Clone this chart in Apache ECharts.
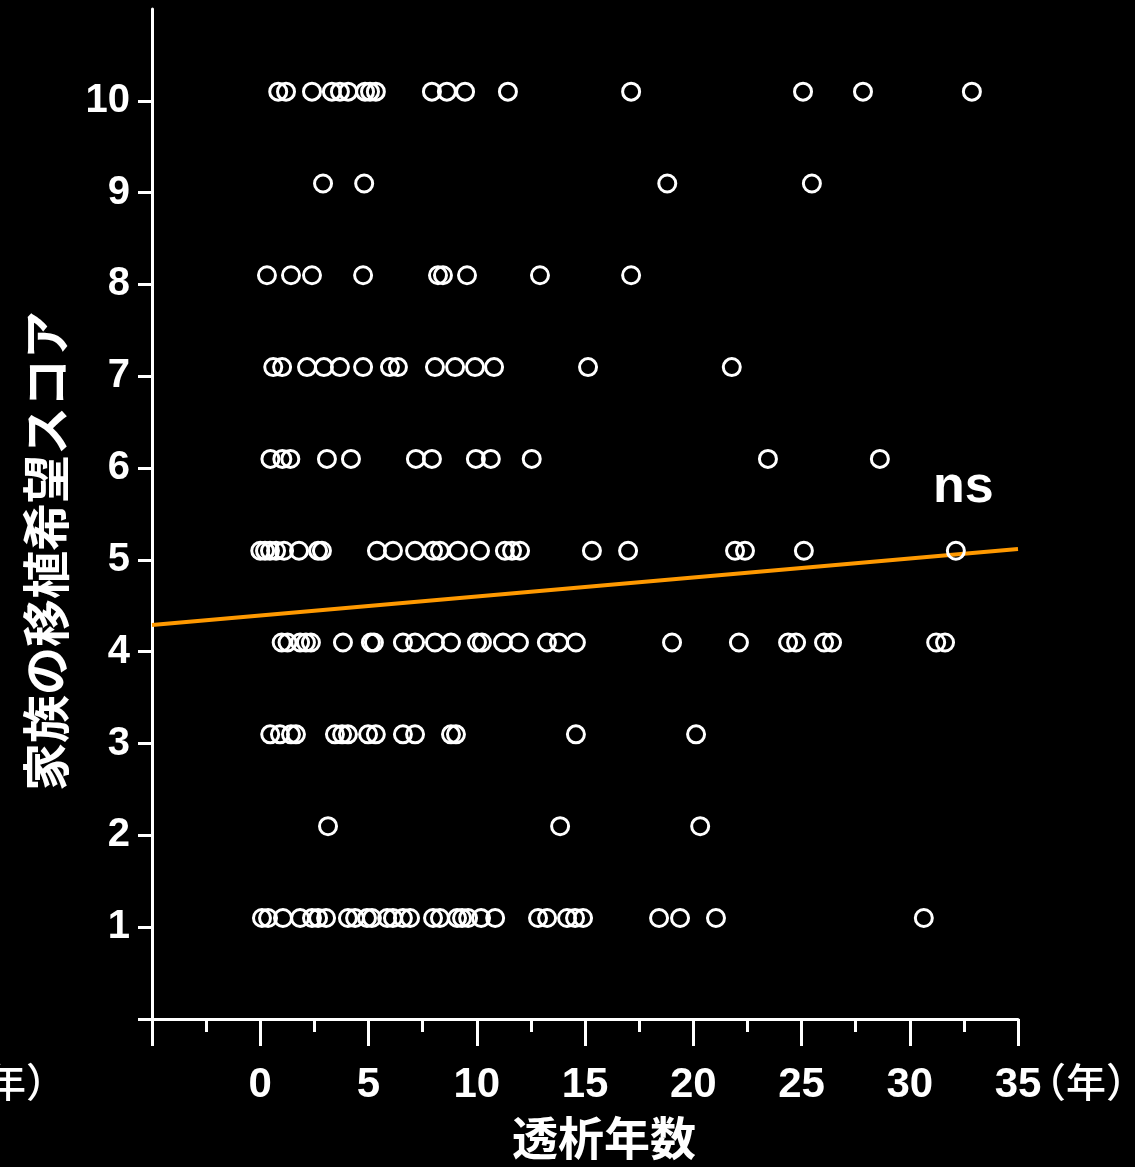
<!DOCTYPE html>
<html>
<head>
<meta charset="utf-8">
<script src="https://cdn.jsdelivr.net/npm/echarts@6/dist/echarts.min.js"></script>
<style>
  html, body { margin: 0; padding: 0; background: #000; }
  #chart { width: 1135px; height: 1167px; }
</style>
</head>
<body>
<div id="chart"></div>
<script>
// Dialysis years (x) for each family transplant-wish score (y)
const yearsScore10 = [0.83, 1.19, 2.39, 3.31, 3.68, 4.06, 4.84, 5.07, 5.34, 7.93, 8.62, 9.46, 11.44, 17.13, 25.07, 27.84, 32.87];
const yearsScore9 = [2.90, 4.80, 18.80, 25.48];
const yearsScore8 = [0.31, 1.42, 2.39, 4.75, 8.21, 8.44, 9.55, 12.92, 17.13];
const yearsScore7 = [0.60, 1.01, 2.16, 2.94, 3.68, 4.75, 5.99, 6.36, 8.07, 9.00, 9.92, 10.80, 15.14, 21.78];
const yearsScore6 = [0.47, 1.02, 1.39, 3.08, 4.19, 7.19, 7.93, 9.96, 10.65, 12.54, 23.45, 28.62];
const yearsScore5 = [0.00, 0.22, 0.45, 0.73, 1.10, 1.79, 2.67, 2.85, 5.39, 6.13, 7.15, 7.98, 8.30, 9.13, 10.15, 11.30, 11.63, 12.00, 15.32, 16.99, 21.93, 22.39, 25.11, 32.13];
const yearsScore4 = [0.99, 1.26, 1.84, 2.11, 2.34, 3.82, 5.11, 5.25, 6.59, 7.15, 8.07, 8.81, 10.01, 10.24, 11.21, 11.95, 13.24, 13.80, 14.58, 19.02, 22.11, 24.38, 24.75, 26.04, 26.41, 31.22, 31.63];
const yearsScore3 = [0.46, 0.91, 1.42, 1.65, 3.45, 3.78, 4.05, 4.98, 5.34, 6.59, 7.15, 8.81, 9.04, 14.58, 20.13];
const yearsScore2 = [3.13, 13.85, 20.32];
const yearsScore1 = [0.08, 0.36, 1.05, 1.84, 2.39, 2.67, 3.04, 4.05, 4.38, 4.93, 5.16, 5.86, 6.13, 6.59, 6.92, 7.98, 8.30, 9.09, 9.32, 9.60, 10.20, 10.85, 12.83, 13.25, 14.17, 14.54, 14.91, 18.42, 19.39, 21.05, 30.65];

// Regression line end points (years, score)
const fitYears = [-5, 35];
const fitScores = [4.19, 5.02];

// Axis ticks and labels
const xTickValues = [-5, 0, 5, 10, 15, 20, 25, 30, 35];
const xLabelValues = [0, 5, 10, 15, 20, 25, 30, 35];
const yTickValues = [0, 1, 2, 3, 4, 5, 6, 7, 8, 9, 10];
const yLabelValues = [1, 2, 3, 4, 5, 6, 7, 8, 9, 10];

const scoreGroups = [
  [10, yearsScore10], [9, yearsScore9], [8, yearsScore8], [7, yearsScore7], [6, yearsScore6],
  [5, yearsScore5], [4, yearsScore4], [3, yearsScore3], [2, yearsScore2], [1, yearsScore1]
];
const points = [];
scoreGroups.forEach(([score, years]) => years.forEach(y => points.push([y, score])));
const fitLine = fitYears.map((x, i) => [x, fitScores[i]]);

const numFont = "'Liberation Sans Narrow', 'Liberation Sans', Arial, sans-serif";
const cjkFont = "'Noto Sans CJK JP', 'Noto Sans', sans-serif";

const chart = echarts.init(document.getElementById('chart'), null, { renderer: 'canvas' });
chart.setOption({
  backgroundColor: '#000',
  animation: false,
  grid: { left: 152, right: 117, top: 9, bottom: 148, containLabel: false },
  xAxis: {
    type: 'value', min: -5, max: 35, interval: 5,
    name: '透析年数', nameLocation: 'middle', nameGap: 96,
    nameTextStyle: { color: '#fff', fontFamily: cjkFont, fontWeight: 'bold', fontSize: 46, padding: [0, 0, 0, 38] },
    axisLine: { show: true, onZero: false, lineStyle: { color: '#fff', width: 3 } },
    axisTick: { show: true, length: 27, lineStyle: { color: '#fff', width: 3 }, customValues: xTickValues },
    minorTick: { show: true, splitNumber: 2, length: 13, lineStyle: { color: '#fff', width: 3 } },
    axisLabel: {
      color: '#fff', fontFamily: numFont, fontWeight: 'bold', fontSize: 42, margin: 45,
      customValues: xLabelValues
    },
    splitLine: { show: false }
  },
  yAxis: [
    {
      type: 'value', min: 0, max: 11, interval: 1,
      name: '家族の移植希望スコア', nameLocation: 'middle', nameGap: 82, nameRotate: 90,
      nameTextStyle: { color: '#fff', fontFamily: cjkFont, fontWeight: 'bold', fontSize: 48, padding: [0, 74, 0, 0] },
      axisLine: { show: true, onZero: false, lineStyle: { color: '#fff', width: 3 } },
      axisTick: { show: true, length: 14, lineStyle: { color: '#fff', width: 3 }, customValues: yTickValues },
      axisLabel: {
        color: '#fff', fontFamily: numFont, fontWeight: 'bold', fontSize: 40, margin: 22,
        customValues: yLabelValues
      },
      splitLine: { show: false }
    },
    {
      // data axis: scores sit a tenth above their tick marks
      type: 'value', min: -0.1, max: 10.9, show: false,
      axisLine: { show: false }, axisTick: { show: false }, axisLabel: { show: false }, splitLine: { show: false }
    }
  ],
  series: [
    {
      type: 'line', yAxisIndex: 1, data: fitLine, showSymbol: false, symbol: 'none', z: 1,
      lineStyle: { color: '#FF9900', width: 4 }, silent: true
    },
    {
      type: 'scatter', yAxisIndex: 1, data: points, symbol: 'circle', symbolSize: 17, z: 2,
      itemStyle: { color: 'rgba(0,0,0,0)', borderColor: '#fff', borderWidth: 3, opacity: 1 },
      silent: true
    }
  ],
  graphic: [
    {
      type: 'text', left: 933, top: 462, silent: true,
      style: { text: 'ns', fill: '#fff', font: "bold 52px 'Liberation Sans', Arial, sans-serif" }
    },
    {
      type: 'text', left: 1026, top: 1062, silent: true,
      style: { text: '（年）', fill: '#fff', font: "500 40px " + cjkFont }
    },
    {
      type: 'text', left: -54, top: 1062, silent: true,
      style: { text: '（年）', fill: '#fff', font: "500 40px " + cjkFont }
    }
  ]
});
</script>
</body>
</html>
